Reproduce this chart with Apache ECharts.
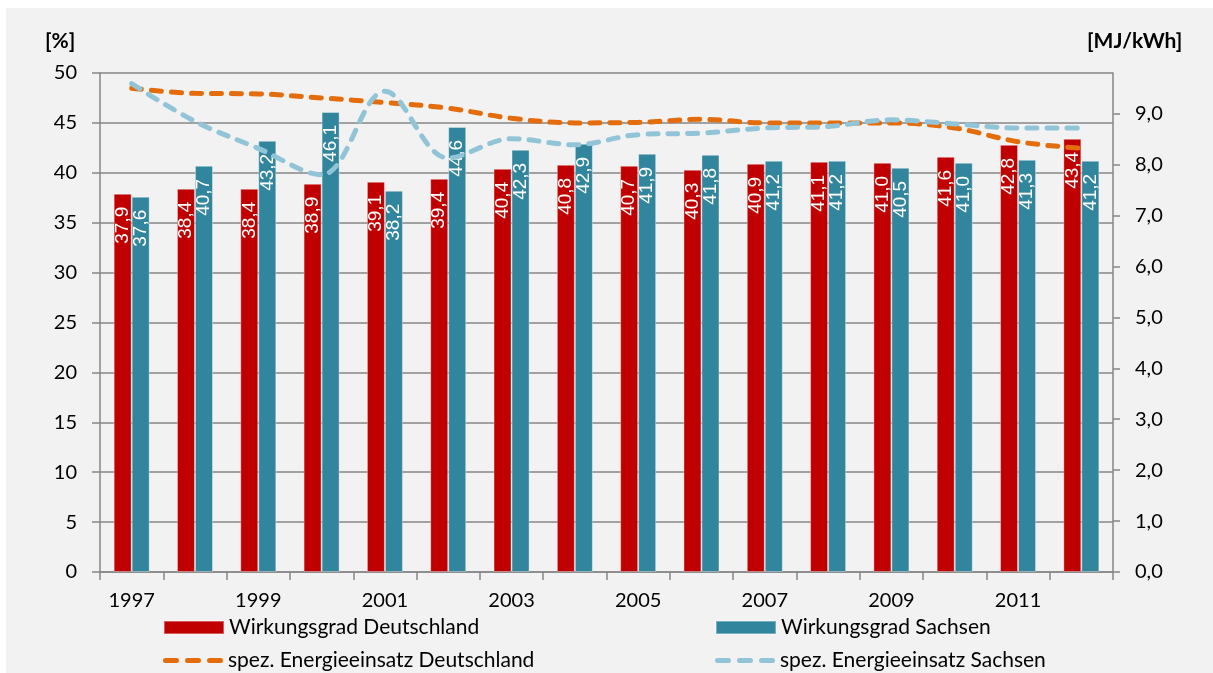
<!DOCTYPE html>
<html>
<head>
<meta charset="utf-8">
<script src="https://cdn.jsdelivr.net/npm/echarts@6/dist/echarts.min.js"></script>
<style>
html,body{margin:0;padding:0;background:#ffffff;width:1213px;height:673px;overflow:hidden;}
#bg{position:absolute;left:6px;top:8px;right:0;bottom:0;background:#f2f2f2;}
#chart{position:absolute;left:0;top:0;width:1213px;height:673px;}
</style>
</head>
<body>
<div id="bg"></div>
<div id="chart"></div>
<script>
// ---- data ----
const years = ['1997','1998','1999','2000','2001','2002','2003','2004','2005','2006','2007','2008','2009','2010','2011','2012'];
const wirkungsgradDE = [37.9, 38.4, 38.4, 38.9, 39.1, 39.4, 40.4, 40.8, 40.7, 40.3, 40.9, 41.1, 41.0, 41.6, 42.8, 43.4];
const wirkungsgradSN = [37.6, 40.7, 43.2, 46.1, 38.2, 44.6, 42.3, 42.9, 41.9, 41.8, 41.2, 41.2, 40.5, 41.0, 41.3, 41.2];
const energieDE = [9.50, 9.40, 9.39, 9.31, 9.22, 9.11, 8.91, 8.82, 8.83, 8.89, 8.82, 8.82, 8.82, 8.72, 8.45, 8.32];
const energieSN = [9.59, 8.85, 8.32, 7.80, 9.44, 8.13, 8.51, 8.39, 8.59, 8.62, 8.72, 8.75, 8.88, 8.80, 8.72, 8.72];
const leftTicks = [0, 5, 10, 15, 20, 25, 30, 35, 40, 45, 50];
const rightTicks = [0, 1, 2, 3, 4, 5, 6, 7, 8, 9];
const names = ['Wirkungsgrad Deutschland', 'Wirkungsgrad Sachsen', 'spez. Energieeinsatz Deutschland', 'spez. Energieeinsatz Sachsen'];

const FONT = 'Lato';
const AX = '#868686';
const chart = echarts.init(document.getElementById('chart'), null, {renderer: 'canvas'});

const barLabel = {
  show: true,
  position: 'insideTop',
  rotate: 90,
  align: 'right',
  verticalAlign: 'middle',
  distance: 13,
  color: '#ffffff',
  fontFamily: 'Liberation Sans',
  fontSize: 19,
  formatter: p => p.value.toFixed(1).replace('.', ',')
};

// dashed legend glyph: three rounded dashes
function dash(x) { return 'M' + (x + 2.5) + ',0h11a2.5,2.5 0 0 1 0,5h-11a2.5,2.5 0 0 1 0,-5z'; }
const dashIcon = 'path://' + dash(0) + dash(22) + dash(44);

function legendItem(name, left, top, icon) {
  return {
    data: [icon ? {name: name, icon: icon} : {name: name, icon: 'rect'}],
    left: left, top: top,
    itemWidth: 60, itemHeight: 13,
    textStyle: {fontFamily: FONT, fontSize: 21, color: '#000'}
  };
}

chart.setOption({
  backgroundColor: 'transparent',
  animation: false,
  textStyle: {fontFamily: FONT},
  grid: {left: 100, right: 100, top: 73, bottom: 101, containLabel: false},
  graphic: [
    {type: 'text', left: 45, top: 31, style: {text: '[%]', font: 'bold 21px Lato', fill: '#000'}},
    {type: 'text', left: 1087, top: 31, style: {text: '[MJ/kWh]', font: 'bold 21px Lato', fill: '#000'}}
  ],
  legend: [
    legendItem(names[0], 158, 612),
    legendItem(names[1], 710, 612),
    legendItem(names[2], 158, 645, dashIcon),
    legendItem(names[3], 710, 645, dashIcon)
  ],
  xAxis: {
    type: 'category',
    data: years,
    boundaryGap: true,
    axisLine: {show: true, lineStyle: {color: AX, width: 1.5}},
    axisTick: {show: true, interval: 0, length: 8, lineStyle: {color: AX, width: 1.5}},
    axisLabel: {interval: 1, margin: 19, fontFamily: FONT, fontSize: 20, color: '#000'},
    splitLine: {show: false}
  },
  yAxis: [
    {
      type: 'value', min: 0, max: 50, interval: 5,
      axisLine: {show: true, lineStyle: {color: AX, width: 1.5}},
      axisTick: {show: true, length: 8, lineStyle: {color: AX, width: 1.5}},
      axisLabel: {margin: 23, fontFamily: FONT, fontSize: 20, color: '#000',
                  customValues: leftTicks},
      splitLine: {show: true, lineStyle: {color: AX, width: 1.5}}
    },
    {
      type: 'value', position: 'right', min: 0, max: 9.8, interval: 1,
      axisLine: {show: true, lineStyle: {color: AX, width: 1.5}},
      axisTick: {show: true, length: 7, customValues: rightTicks, lineStyle: {color: AX, width: 1.5}},
      axisLabel: {margin: 22, fontFamily: FONT, fontSize: 20, color: '#000',
                  customValues: rightTicks,
                  formatter: v => v.toFixed(1).replace('.', ',')},
      splitLine: {show: false}
    }
  ],
  series: [
    {
      name: names[0], type: 'bar', yAxisIndex: 0, data: wirkungsgradDE,
      barWidth: 18, barGap: '0%',
      itemStyle: {color: '#c00000', borderColor: 'rgba(255,255,255,0.35)', borderWidth: 1},
      label: barLabel, z: 2
    },
    {
      name: names[1], type: 'bar', yAxisIndex: 0, data: wirkungsgradSN,
      barWidth: 18, barGap: '0%',
      itemStyle: {color: '#31859c', borderColor: 'rgba(255,255,255,0.35)', borderWidth: 1},
      label: barLabel, z: 2
    },
    {
      name: names[2], type: 'line', yAxisIndex: 1, data: energieDE,
      smooth: 0.35, symbol: 'none', showSymbol: false, z: 5,
      itemStyle: {color: '#e46c0a'},
      lineStyle: {color: '#e46c0a', width: 5, type: [10, 10], cap: 'round'}
    },
    {
      name: names[3], type: 'line', yAxisIndex: 1, data: energieSN,
      smooth: 0.35, symbol: 'none', showSymbol: false, z: 5,
      itemStyle: {color: '#92c4d8'},
      lineStyle: {color: '#92c4d8', width: 5, type: [10, 10], cap: 'round'}
    }
  ]
});
</script>
</body>
</html>
